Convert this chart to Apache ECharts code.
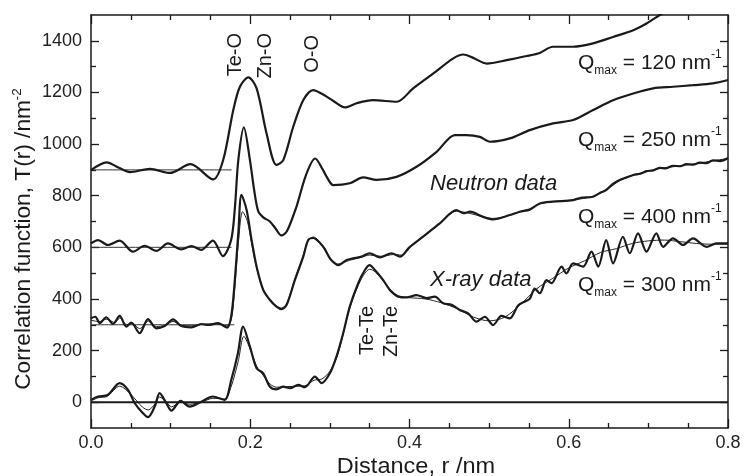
<!DOCTYPE html>
<html>
<head>
<meta charset="utf-8">
<script src="https://cdn.jsdelivr.net/npm/echarts@6/dist/echarts.min.js"></script>
<style>
html,body{margin:0;padding:0;background:#fff;}
#chart{width:744px;height:476px;}
</style>
</head>
<body>
<div id="chart"></div>
<script>
// ---- tick values ----
const xMajor = [0, 0.2, 0.4, 0.6, 0.8];
const xMinor = [0.05, 0.1, 0.15, 0.25, 0.3, 0.35, 0.45, 0.5, 0.55, 0.65, 0.7, 0.75];
const yMajor = [0, 200, 400, 600, 800, 1000, 1200, 1400];
const yMinor = [100, 300, 500, 700, 900, 1100, 1300];

// ---- data: [r (nm), T(r) (nm^-2)] ----
const q120 = [[0,899],[0.0197,929],[0.035,908],[0.049,891],[0.074,904],[0.099,888],[0.125,922],[0.1535,863],[0.166,938],[0.1787,1132],[0.187,1222],[0.1975,1258],[0.208,1216],[0.2205,1041],[0.233,919],[0.2415,938],[0.254,1067],[0.2665,1170],[0.279,1209],[0.2915,1192],[0.304,1168],[0.319,1142],[0.3335,1158],[0.354,1170],[0.384,1164],[0.4046,1216],[0.43,1274],[0.455,1332],[0.4675,1347],[0.48,1334],[0.497,1312],[0.522,1325],[0.547,1341],[0.5636,1353],[0.58,1377],[0.6055,1377],[0.6306,1390],[0.6557,1415],[0.681,1441],[0.6976,1467],[0.7143,1500],[0.73,1530]];

const q250 = [[0,615],[0.0088,628],[0.0213,609],[0.036,626],[0.0527,583],[0.0674,606],[0.082,586],[0.0967,615],[0.1134,592],[0.126,605],[0.1385,590],[0.153,626],[0.1657,566],[0.176,628],[0.1808,757],[0.185,938],[0.192,1065],[0.1996,938],[0.205,820],[0.21,740],[0.2163,716],[0.2247,700],[0.232,672],[0.239,646],[0.246,662],[0.258,757],[0.27,880],[0.2815,944],[0.2915,899],[0.296,873],[0.3043,841],[0.325,848],[0.3418,871],[0.3586,861],[0.3837,873],[0.4088,912],[0.434,970],[0.457,1035],[0.4715,1035],[0.4883,1028],[0.501,1009],[0.526,1022],[0.551,1054],[0.5804,1080],[0.6055,1093],[0.6306,1132],[0.6557,1170],[0.681,1196],[0.706,1216],[0.731,1222],[0.756,1228],[0.781,1235],[0.8,1248]];

const q400 = [[0,325],[0.0054,331],[0.011,306],[0.019,329],[0.0276,303],[0.036,334],[0.0443,293],[0.0506,308],[0.061,267],[0.0716,322],[0.082,286],[0.0925,295],[0.103,321],[0.1134,295],[0.126,290],[0.1385,303],[0.147,299],[0.1595,306],[0.171,289],[0.176,331],[0.18,448],[0.185,654],[0.189,803],[0.1955,744],[0.2017,628],[0.208,525],[0.2163,435],[0.2247,396],[0.233,370],[0.2394,360],[0.2457,377],[0.256,473],[0.2666,564],[0.2728,628],[0.279,636],[0.2916,602],[0.3,557],[0.304,544],[0.3105,531],[0.321,551],[0.329,557],[0.34,564],[0.35,577],[0.3628,561],[0.3775,577],[0.388,564],[0.4005,602],[0.417,641],[0.438,693],[0.459,744],[0.468,732],[0.476,738],[0.4925,718],[0.505,708],[0.526,725],[0.5385,738],[0.551,746],[0.5636,770],[0.58,777],[0.6055,783],[0.615,792],[0.6306,796],[0.64,812],[0.647,822],[0.655,845],[0.664,861],[0.672,870],[0.681,880],[0.69,885],[0.6976,895],[0.706,898],[0.714,908],[0.722,906],[0.731,916],[0.74,914],[0.7477,922],[0.756,920],[0.7645,928],[0.773,926],[0.781,937],[0.79,934],[0.8,946]];

const q400Thin = [[0,318],[0.01,312],[0.02,322],[0.03,308],[0.036,326],[0.045,300],[0.052,305],[0.061,285],[0.072,314],[0.082,293],[0.093,298],[0.103,313],[0.113,298],[0.126,296],[0.14,302],[0.155,304],[0.17,296],[0.176,318],[0.18,420],[0.185,615],[0.1905,738],[0.1965,700],[0.2017,615],[0.208,520],[0.2163,435],[0.2247,398],[0.233,372],[0.2394,365],[0.2457,382],[0.256,475],[0.2666,570],[0.2728,628],[0.279,640],[0.2916,605],[0.3,560],[0.31,535],[0.325,550],[0.34,562],[0.35,570],[0.365,565],[0.38,572],[0.39,570],[0.4005,600],[0.417,640],[0.438,692],[0.459,740],[0.475,732],[0.4925,718],[0.505,712],[0.526,724],[0.5385,738],[0.551,748],[0.5636,768],[0.58,777],[0.6055,783],[0.6306,798],[0.647,822],[0.664,858],[0.681,880],[0.6976,893],[0.714,905],[0.731,912],[0.7477,919],[0.7645,926],[0.781,935],[0.8,944]];

const xray = [[0,9],[0.0088,22],[0.021,28],[0.036,74],[0.0465,48],[0.055,-4],[0.0653,-43],[0.0716,-58],[0.08,-17],[0.0862,35],[0.0946,-4],[0.101,-33],[0.1126,5],[0.1239,-17],[0.1385,2],[0.153,22],[0.1678,9],[0.1761,86],[0.1845,190],[0.191,293],[0.1996,215],[0.208,131],[0.2163,112],[0.2247,60],[0.233,50],[0.2415,60],[0.25,54],[0.2603,67],[0.2686,58],[0.2812,99],[0.2896,74],[0.3,112],[0.3083,177],[0.3167,267],[0.325,370],[0.3356,461],[0.344,512],[0.35,531],[0.3565,512],[0.367,473],[0.3753,435],[0.3858,409],[0.3963,406],[0.4088,415],[0.4214,403],[0.4318,409],[0.4423,383],[0.4528,377],[0.4632,357],[0.4737,344],[0.4842,312],[0.4946,331],[0.505,299],[0.5155,334],[0.526,325],[0.5364,375],[0.545,390],[0.551,400],[0.5574,440],[0.5636,422],[0.572,473],[0.5783,461],[0.591,525],[0.597,499],[0.6055,538],[0.618,525],[0.6285,583],[0.637,525],[0.647,628],[0.6557,538],[0.668,641],[0.6766,577],[0.687,654],[0.6976,583],[0.71,654],[0.7185,602],[0.731,635],[0.7436,609],[0.756,635],[0.773,602],[0.7855,615],[0.8,615]];

const xrayThin = [[0,5],[0.01,18],[0.02,22],[0.036,62],[0.05,30],[0.065,-20],[0.072,-30],[0.08,-8],[0.086,20],[0.095,0],[0.101,-18],[0.113,0],[0.124,-8],[0.14,2],[0.153,15],[0.168,12],[0.176,60],[0.185,160],[0.192,255],[0.2,205],[0.208,140],[0.216,105],[0.225,70],[0.233,58],[0.245,60],[0.26,62],[0.27,65],[0.28,85],[0.29,90],[0.3,120],[0.31,185],[0.325,365],[0.336,455],[0.344,500],[0.35,515],[0.357,505],[0.367,470],[0.375,440],[0.386,412],[0.4,405],[0.42,400],[0.44,385],[0.46,362],[0.48,330],[0.5,315],[0.52,330],[0.54,380],[0.56,440],[0.58,480],[0.6,520],[0.62,548],[0.64,580],[0.66,595],[0.68,615],[0.7,625],[0.72,628],[0.74,622],[0.76,615],[0.78,612],[0.8,612]];

const base900 = [[0,900],[0.1766,900]];
const base600 = [[0,600],[0.1766,600]];
const base300 = [[0,300],[0.18,300]];
const zeroLine = [[0,0],[0.8,0]];

const FF = '"Liberation Sans", Arial, Helvetica, sans-serif';
const INK = '#1a1a1a';

function xAx(pos, ticks, len, labels, line) {
  return {
    type: 'value', min: 0, max: 0.8, position: pos,
    axisLine: {show: line, onZero: false, lineStyle: {color: INK, width: 1.5}},
    axisTick: {show: true, inside: true, length: len, customValues: ticks, lineStyle: {color: INK, width: 1.3}},
    axisLabel: {show: labels, customValues: ticks, formatter: v => v.toFixed(1), color: '#222', fontFamily: FF, fontSize: 18, margin: 6},
    splitLine: {show: false}
  };
}
function yAx(pos, ticks, len, labels, line) {
  return {
    type: 'value', min: -100, max: 1500, position: pos,
    axisLine: {show: line, onZero: false, lineStyle: {color: INK, width: 1.5}},
    axisTick: {show: true, inside: true, length: len, customValues: ticks, lineStyle: {color: INK, width: 1.3}},
    axisLabel: {show: labels, customValues: ticks, formatter: v => String(Math.round(v)), color: '#222', fontFamily: FF, fontSize: 18, margin: 9},
    splitLine: {show: false}
  };
}
function ser(data, width, color) {
  return {type: 'line', data: data, showSymbol: false, smooth: 0.3, clip: true,
    lineStyle: {width: width, color: color}, silent: true, animation: false, z: width > 1.5 ? 3 : 2};
}

const chart = echarts.init(document.getElementById('chart'), null, {renderer: 'canvas'});

function txt(x, y, text, opts) {
  return Object.assign({type: 'text', x: x, y: y, silent: true, z: 10,
    style: Object.assign({text: text, fill: '#1a1a1a', fontFamily: FF, fontSize: 20, align: 'left', verticalAlign: 'middle'}, opts.style || {})},
    opts.el || {});
}
const qRich = {
  q: {fontSize: 21, fontFamily: FF, lineHeight: 28, fill: '#1a1a1a'},
  sub: {fontSize: 12, fontFamily: FF, lineHeight: 12, verticalAlign: 'bottom', fill: '#1a1a1a'},
  sup: {fontSize: 12, fontFamily: FF, lineHeight: 12, verticalAlign: 'top', fill: '#1a1a1a'}
};
function qLabel(y, val) {
  return txt(578, y, '{q|Q}{sub|max}{q| = ' + val + ' nm}{sup|-1}', {style: {rich: qRich}});
}

chart.setOption({
  animation: false,
  grid: {left: 91, right: 16, top: 15, bottom: 48, containLabel: false},
  xAxis: [
    xAx('bottom', xMajor, 9, true, true),
    xAx('bottom', xMinor, 5, false, false),
    xAx('top', xMajor, 9, false, true),
    xAx('top', xMinor, 5, false, false)
  ],
  yAxis: [
    yAx('left', yMajor, 8, true, true),
    yAx('left', yMinor, 5, false, false),
    yAx('right', yMajor, 8, false, true),
    yAx('right', yMinor, 5, false, false)
  ],
  series: [
    ser(base900, 1, '#333'),
    ser(base600, 1, '#333'),
    ser(base300, 1, '#333'),
    ser(q400Thin, 1, '#222'),
    ser(xrayThin, 1, '#222'),
    ser(zeroLine, 2, INK),
    ser(q120, 2.2, INK),
    ser(q250, 2.2, INK),
    ser(q400, 2.2, INK),
    ser(xray, 2.2, INK)
  ],
  graphic: [
    // axis titles
    txt(416, 467, 'Distance, r /nm', {style: {fontSize: 22, align: 'center'}, el: {scaleX: 1.07}}),
    txt(24, 239, '{a|Correlation function, T(r) /nm}{s|-2}', {
      style: {align: 'center', rich: {
        a: {fontSize: 22, fontFamily: FF, lineHeight: 26, fill: '#1a1a1a'},
        s: {fontSize: 13, fontFamily: FF, lineHeight: 13, verticalAlign: 'top', fill: '#1a1a1a'}}},
      el: {rotation: Math.PI / 2, scaleX: 1.03}}),
    // bond annotations
    txt(235.8, 33, 'Te-O', {style: {align: 'right'}, el: {rotation: Math.PI / 2}}),
    txt(265.8, 33, 'Zn-O', {style: {align: 'right'}, el: {rotation: Math.PI / 2}}),
    txt(312.5, 35, 'O-O', {style: {align: 'right'}, el: {rotation: Math.PI / 2}}),
    txt(367, 306, 'Te-Te', {style: {align: 'right'}, el: {rotation: Math.PI / 2}}),
    txt(391, 306, 'Zn-Te', {style: {align: 'right'}, el: {rotation: Math.PI / 2}}),
    // data labels
    txt(430, 184, 'Neutron data', {style: {fontSize: 22, fontStyle: 'italic'}}),
    txt(430, 280, 'X-ray data', {style: {fontSize: 22, fontStyle: 'italic'}}),
    qLabel(63, 120),
    qLabel(140, 250),
    qLabel(217, 400),
    qLabel(285, 300)
  ]
});
</script>
</body>
</html>
